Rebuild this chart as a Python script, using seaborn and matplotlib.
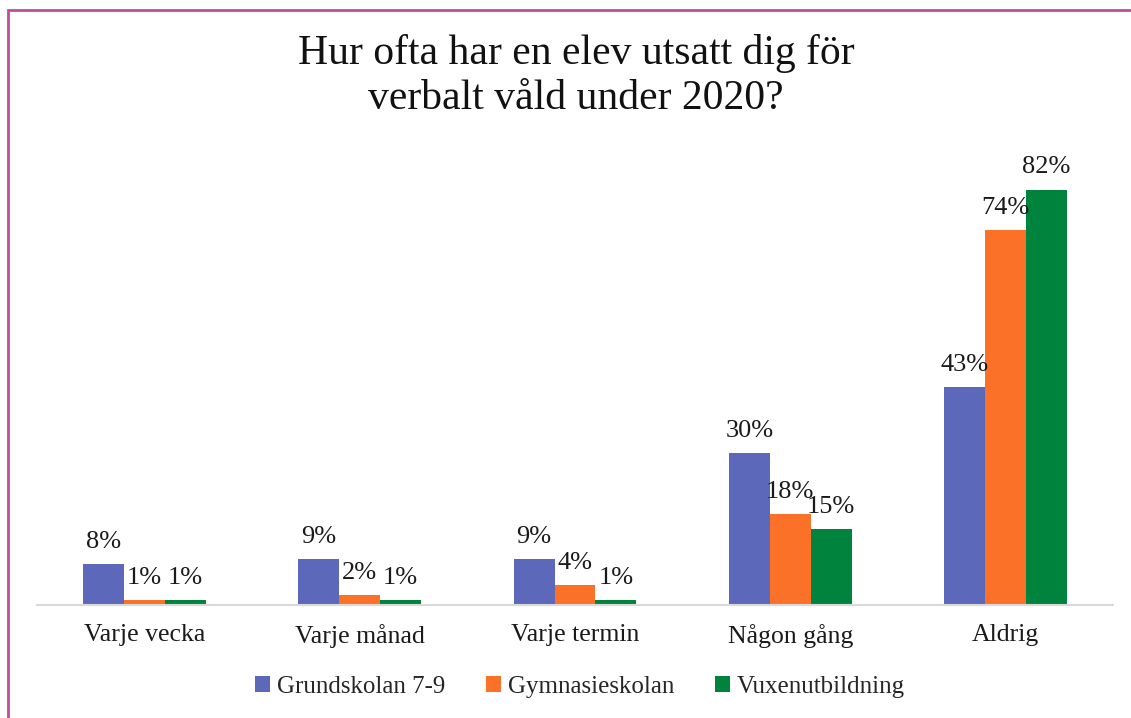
import pandas as pd
import matplotlib
matplotlib.use('Agg')
import matplotlib.pyplot as plt
import seaborn as sns
from matplotlib.patches import Rectangle

#%% Data

kategorier = ['Varje vecka', 'Varje månad', 'Varje termin', 'Någon gång', 'Aldrig']
grundskolan = [8, 9, 9, 30, 43]
gymnasieskolan = [1, 2, 4, 18, 74]
vuxenutbildning = [1, 1, 1, 15, 82]
serier = ['Grundskolan 7-9', 'Gymnasieskolan', 'Vuxenutbildning']
farger = ['#5C68B9', '#FC7128', '#00843D']

titel = 'Hur ofta har en elev utsatt dig för\nverbalt våld under 2020?'

#%% Long form

rader = []
for namn, varden in zip(serier, [grundskolan, gymnasieskolan, vuxenutbildning]):
    for k, v in zip(kategorier, varden):
        rader.append({'kategori': k, 'skola': namn, 'andel': v})
df = pd.DataFrame(rader)

#%% Plot

sns.set_style('white')
plt.rcParams['font.family'] = ['Liberation Serif', 'DejaVu Serif']

W, H = 1131, 718
fig = plt.figure(figsize=(W / 100, H / 100), dpi=100)
ax = fig.add_axes([37 / W, 1 - 605 / H, (1113 - 37) / W, 456 / H])

sns.barplot(data=df, x='kategori', y='andel', hue='skola', order=kategorier,
            hue_order=serier, palette=farger, width=0.57, saturation=1,
            edgecolor='none', ax=ax)

for c in ax.containers:
    ax.bar_label(c, fmt='%d%%', padding=8, fontsize=19, color='#1a1a1a')

ax.set_ylim(0, 90)
ax.set_xlim(-0.5, 4.5)
ax.set_xlabel('')
ax.set_ylabel('')
ax.set_yticks([])
for s in ['top', 'left', 'right']:
    ax.spines[s].set_visible(False)
ax.spines['bottom'].set_color('#D9D9D9')
ax.spines['bottom'].set_linewidth(1.5)
ax.tick_params(axis='x', length=0, pad=14, labelsize=18.5, labelcolor='#1a1a1a')

handles, labels = ax.get_legend_handles_labels()
ax.legend_.remove()
fig.legend(handles, labels, loc='center', bbox_to_anchor=(580 / W, 1 - 687 / H),
           ncol=3, frameon=False, fontsize=18, handlelength=0.6, handleheight=0.6,
           handletextpad=0.3, columnspacing=1.6)

fig.text(576 / W, 1 - 76 / H, titel, ha='center', va='center', fontsize=30,
         color='#111111', linespacing=1.2)

# ram runt diagrammet
fig.add_artist(Rectangle((7.5 / W, -0.1), 1.2, 1.1 - 10.5 / H, transform=fig.transFigure,
                         fill=False, edgecolor='#C04C9C', linewidth=2))

fig.savefig('out.png', dpi=100, facecolor='white')
